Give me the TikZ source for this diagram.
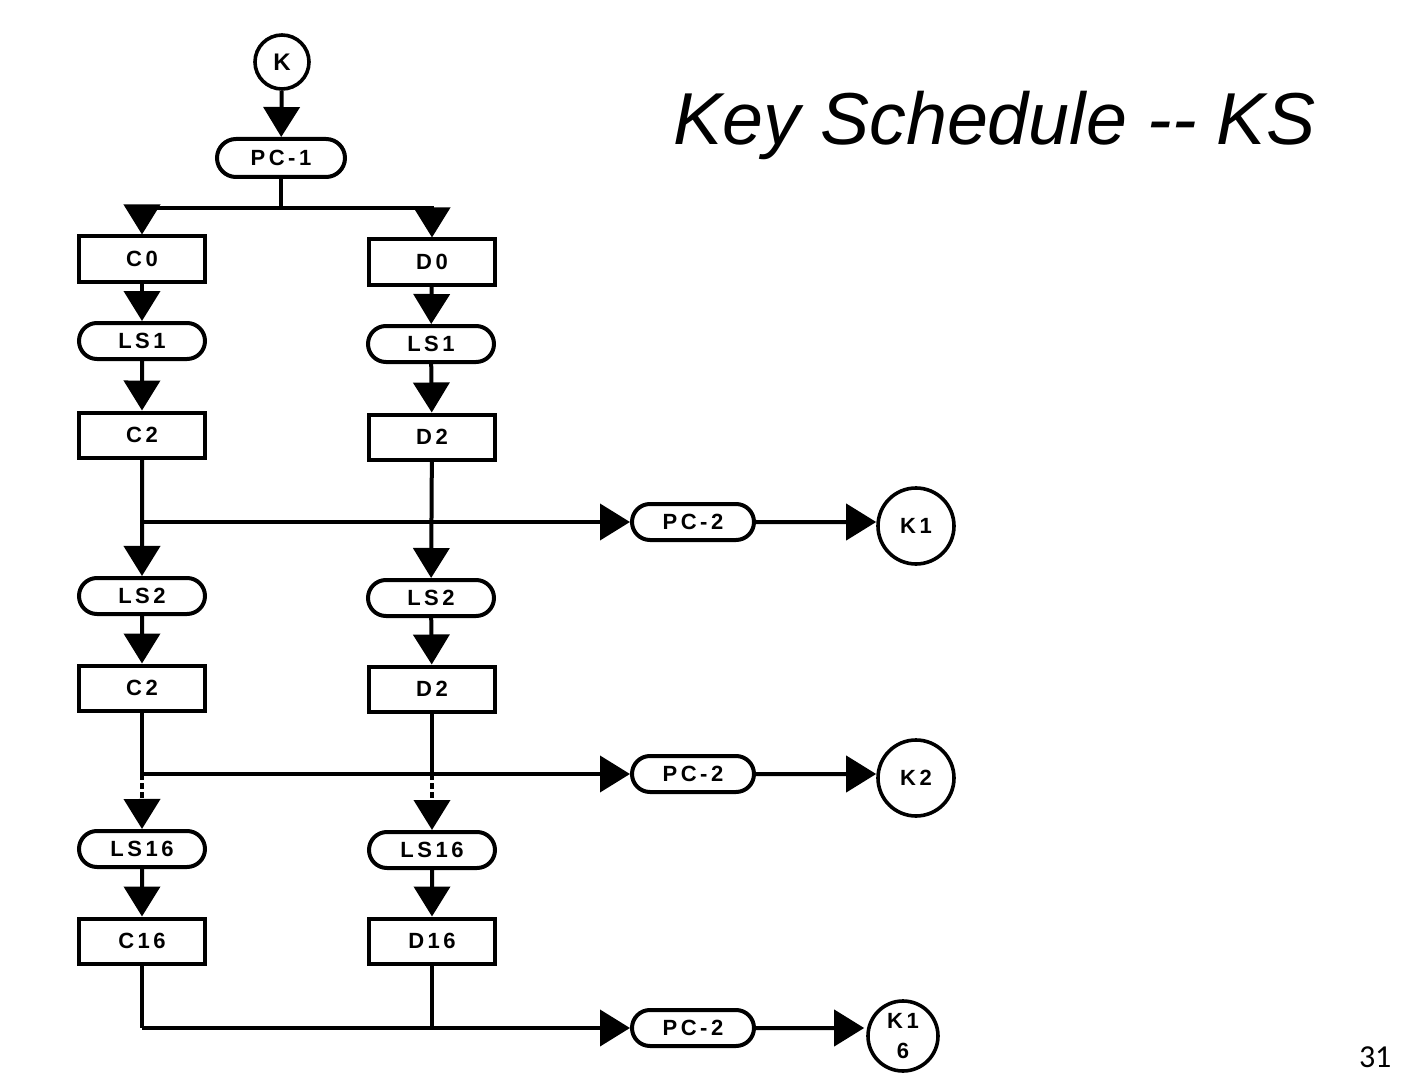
\documentclass[tikz,border=0pt]{standalone}
\usepackage{fontspec}
\setmainfont{Liberation Sans}
\newfontfamily\labfont{Liberation Sans Bold}[LetterSpace=16]
\newfontfamily\pagefont{Carlito}
\usetikzlibrary{arrows.meta,shapes.misc}
\begin{document}
\begin{tikzpicture}[x=0.5pt,y=-0.5pt,
  line width=2pt,
  lab/.style={font=\labfont\fontsize{11}{12}\selectfont, inner sep=0pt},
  regbox/.style={lab, draw, rectangle, minimum width=63pt, minimum height=22.5pt, line width=2pt},
  pill/.style={lab, draw, rounded rectangle, minimum width=63pt, minimum height=18pt, line width=2pt},
  keyc/.style={lab, draw, circle, line width=1.8pt},
  arr/.style={-{Triangle[length=15pt,width=18pt]}},
  dotseg/.style={dash pattern=on 3pt off 1.5pt}
]
\useasboundingbox (0,0) rectangle (1410,1086);

% title and page number
\node[anchor=base west, inner sep=0pt, font=\itshape\fontsize{36.8}{40}\selectfont] (title) at (671,145) {Key Schedule -\/- KS};
\node[anchor=base west, inner sep=0pt, font=\pagefont\fontsize{16}{18}\selectfont] (pnum) at (1357,1067) {31};

% top
\node[keyc, minimum size=27pt, font=\labfont\fontsize{12}{13}\selectfont] (k) at (282,62) {K};
\node[pill, minimum width=64pt, minimum height=19pt] (pc1) at (281,158) {PC-1};
\coordinate (s1) at (281,208);

% C column
\node[regbox] (c0) at (142,259) {C0};
\node[pill] (ls1c) at (142,341) {LS1};
\node[regbox] (c2) at (142,435) {C2};
\node[pill] (ls2c) at (142,596) {LS2};
\node[regbox] (c2b) at (142,688) {C2};
\node[pill] (ls16c) at (142,849) {LS16};
\node[regbox] (c16) at (142,941) {C16};

% D column
\node[regbox] (d0) at (432,262) {D0};
\node[pill] (ls1d) at (431,344) {LS1};
\node[regbox] (d2) at (432,437) {D2};
\node[pill] (ls2d) at (431,598) {LS2};
\node[regbox] (d2b) at (432,689) {D2};
\node[pill] (ls16d) at (432,850) {LS16};
\node[regbox] (d16) at (432,941) {D16};

% PC-2 and subkeys
\node[pill, minimum width=61pt] (pc2a) at (693,522) {PC-2};
\node[pill, minimum width=61pt] (pc2b) at (693,774) {PC-2};
\node[pill, minimum width=61pt] (pc2c) at (693,1028) {PC-2};
\node[keyc, minimum size=38pt] (k1) at (916,526) {K1};
\node[keyc, minimum size=38pt] (k2) at (916,778) {K2};
\node[keyc, minimum size=35pt, align=center, font=\labfont\fontsize{11}{15}\selectfont] (k16) at (903,1036) {K1\\6};

% junction coordinates
\coordinate (j1c) at (142,522);
\coordinate (j1d) at (432,522);
\coordinate (j2c) at (142,774);
\coordinate (j2d) at (432,774);
\coordinate (m2c) at (142,806);
\coordinate (m2d) at (432,806);
\coordinate (j3c) at (142,1028);
\coordinate (j3d) at (432,1028);

% connectors top
\draw[arr] (k) -- (pc1);
\draw (pc1) -- (s1);
\draw[arr] (s1) -| (c0);
\draw[arr] (s1) -| (d0);

% stage 1
\draw[arr] (c0) -- (ls1c);
\draw[arr] (ls1c) -- (c2);
\draw[arr] (d0) -- (ls1d);
\draw[arr] (ls1d) -- (d2);
\draw[arr] (c2) -- (ls2c);
\draw[arr] (d2) -- (ls2d);
\draw[arr] (j1c) -- (pc2a);
\draw[arr] (pc2a) -- (pc2a -| k1.west);

% stage 2
\draw[arr] (ls2c) -- (c2b);
\draw[arr] (ls2d) -- (d2b);
\draw (c2b) -- (j2c);
\draw (d2b) -- (j2d);
\draw[dotseg] (j2c) -- (m2c);
\draw[dotseg] (j2d) -- (m2d);
\draw[arr] (m2c) -- (ls16c);
\draw[arr] (m2d) -- (ls16d);
\draw[arr] (j2c) -- (pc2b);
\draw[arr] (pc2b) -- (pc2b -| k2.west);

% stage 16
\draw[arr] (ls16c) -- (c16);
\draw[arr] (ls16d) -- (d16);
\draw (c16) -- (j3c);
\draw (d16) -- (j3d);
\draw[arr] (j3c) -- (pc2c);
\draw[arr] (pc2c) -- ([xshift=-1pt]pc2c -| k16.west);
\end{tikzpicture}
\end{document}
